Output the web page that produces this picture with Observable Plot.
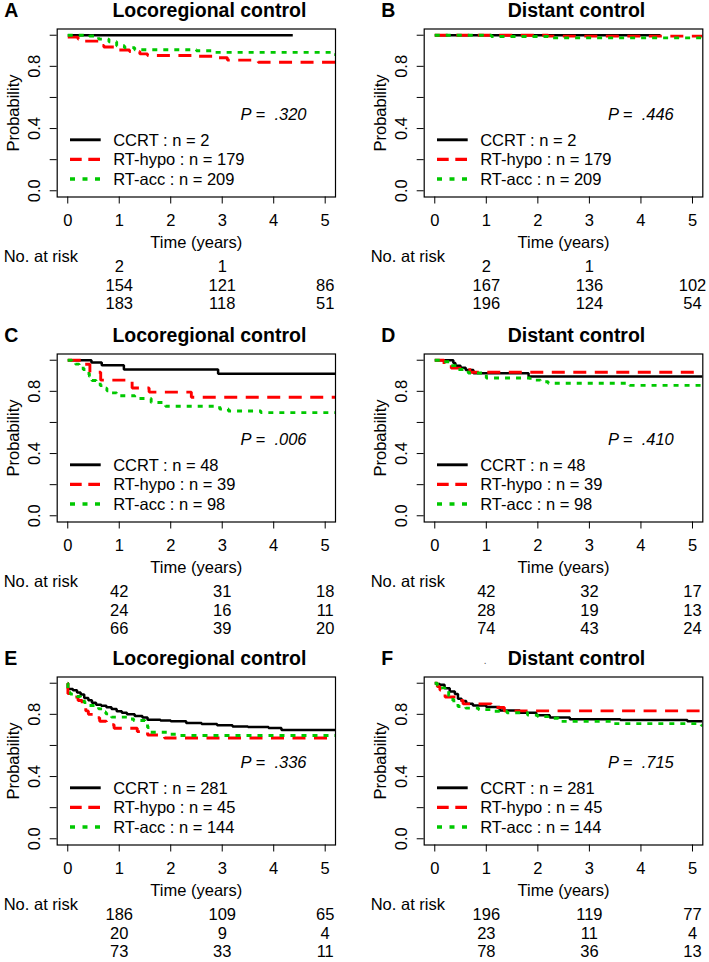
<!DOCTYPE html>
<html>
<head>
<meta charset="utf-8">
<script src="https://cdn.jsdelivr.net/npm/d3@7"></script>
<script src="https://cdn.jsdelivr.net/npm/@observablehq/plot@0.6"></script>
<style>
  body { margin: 0; background: #fff; }
  #fig { position: relative; width: 709px; height: 962px; overflow: hidden; background: #fff;
         font-family: "Liberation Sans", Arial, Helvetica, sans-serif; }
  #fig svg { position: absolute; overflow: visible; }
</style>
</head>
<body>
<div id="fig"></div>
<script>
// ---------------- DATA ----------------
const groups = ["CCRT", "RT-hypo", "RT-acc"];
const letters = ["A", "B", "C", "D", "E", "F"];
const titles = ["Locoregional control", "Distant control", "Locoregional control", "Distant control", "Locoregional control", "Distant control"];
const pValues = [".320", ".446", ".006", ".410", ".336", ".715"];
const xTicks = [0, 1, 2, 3, 4, 5];
const yTicks = [0, 0.2, 0.4, 0.6, 0.8, 1.0];
const yLabelled = [0, 0.4, 0.8];
const riskTimes = [1, 3, 5];

// group sizes per panel (CCRT, RT-hypo, RT-acc)
const nA = [2, 179, 209], nB = [2, 179, 209];
const nC = [48, 39, 98],  nD = [48, 39, 98];
const nE = [281, 45, 144], nF = [281, 45, 144];

// numbers at risk at 1, 3, 5 years
const riskA = [[2, 1, null], [154, 121, 86], [183, 118, 51]];
const riskB = [[2, 1, null], [167, 136, 102], [196, 124, 54]];
const riskC = [[42, 31, 18], [24, 16, 11], [66, 39, 20]];
const riskD = [[42, 32, 17], [28, 19, 13], [74, 43, 24]];
const riskE = [[186, 109, 65], [20, 9, 4], [73, 33, 11]];
const riskF = [[196, 119, 77], [23, 11, 4], [78, 36, 13]];

// Kaplan-Meier step curves [time (years), probability]
const A_ccrt = [[0,1],[4.37,1]];
const A_hypo = [[0,0.988],[0.2,0.975],[0.3,0.962],[0.62,0.935],[0.7,0.924],[1.0,0.905],[1.2,0.895],[1.4,0.88],[1.55,0.87],[2.45,0.865],[2.85,0.855],[3.1,0.84],[3.7,0.826],[5.3,0.826]];
const A_acc  = [[0,1],[0.42,0.995],[0.6,0.975],[0.8,0.958],[0.95,0.932],[1.1,0.92],[1.3,0.907],[2.5,0.9],[2.8,0.89],[5.15,0.875],[5.3,0.875]];

const B_ccrt = [[0,1],[4.38,1]];
const B_hypo = [[0,1],[2.2,0.994],[5.3,0.994]];
const B_acc  = [[0,1],[1.1,0.992],[2.2,0.983],[5.3,0.983]];

const C_ccrt = [[0,1],[0.46,0.985],[0.66,0.967],[1.09,0.94],[2.92,0.913],[5.3,0.913]];
const C_hypo = [[0,1],[0.3,0.974],[0.43,0.923],[0.64,0.872],[1.25,0.821],[1.58,0.795],[2.4,0.762],[5.3,0.762]];
const C_acc  = [[0,1],[0.08,0.99],[0.15,0.975],[0.22,0.96],[0.3,0.94],[0.35,0.915],[0.42,0.895],[0.47,0.87],[0.55,0.855],[0.63,0.837],[0.7,0.82],[0.76,0.804],[0.85,0.79],[0.95,0.772],[1.3,0.754],[1.62,0.728],[1.9,0.704],[2.95,0.686],[3.12,0.674],[3.75,0.663],[5.3,0.663]];

const D_ccrt = [[0,1],[0.36,0.982],[0.4,0.964],[0.5,0.952],[0.6,0.937],[0.75,0.917],[1.82,0.896],[5.3,0.896]];
const D_hypo = [[0,1],[0.18,0.974],[0.32,0.949],[0.68,0.923],[5.3,0.923]];
const D_acc  = [[0,1],[0.1,0.99],[0.3,0.965],[0.45,0.94],[0.65,0.918],[1.0,0.886],[1.85,0.872],[2.05,0.862],[2.2,0.852],[3.78,0.838],[5.3,0.838]];

const E_ccrt = [[0,1],[0.005,0.963],[0.1,0.955],[0.18,0.94],[0.25,0.928],[0.32,0.905],[0.4,0.89],[0.47,0.875],[0.55,0.862],[0.65,0.855],[0.75,0.845],[0.85,0.835],[0.95,0.82],[1.05,0.81],[1.15,0.8],[1.3,0.79],[1.45,0.78],[1.55,0.765],[1.8,0.76],[2.0,0.755],[2.3,0.745],[2.6,0.738],[2.9,0.73],[3.2,0.722],[3.5,0.718],[3.9,0.712],[4.15,0.7],[5.3,0.7]];
const E_hypo = [[0,1],[0.003,0.933],[0.08,0.911],[0.2,0.889],[0.28,0.867],[0.35,0.822],[0.4,0.8],[0.55,0.778],[0.62,0.756],[0.75,0.733],[0.9,0.711],[1.35,0.689],[1.55,0.667],[1.88,0.648],[5.3,0.648]];
const E_acc  = [[0,1],[0.003,0.94],[0.05,0.93],[0.18,0.915],[0.25,0.9],[0.32,0.875],[0.38,0.857],[0.6,0.835],[0.68,0.815],[0.74,0.803],[0.85,0.782],[1.22,0.77],[1.28,0.76],[1.5,0.74],[1.55,0.715],[1.6,0.685],[1.95,0.672],[2.15,0.664],[5.3,0.664]];

const F_ccrt = [[0,1],[0.05,0.995],[0.1,0.99],[0.19,0.968],[0.29,0.947],[0.39,0.93],[0.45,0.9],[0.52,0.885],[0.61,0.868],[0.74,0.857],[1.0,0.847],[1.26,0.825],[1.65,0.81],[1.97,0.794],[2.23,0.779],[2.62,0.768],[3.6,0.764],[4.9,0.755],[5.3,0.755]];
const F_hypo = [[0,1],[0.05,0.978],[0.1,0.956],[0.15,0.933],[0.2,0.911],[0.45,0.889],[0.55,0.867],[1.1,0.844],[1.35,0.822],[5.3,0.822]];
const F_acc  = [[0,1],[0.05,0.985],[0.12,0.97],[0.2,0.95],[0.27,0.92],[0.32,0.895],[0.37,0.87],[0.45,0.85],[0.6,0.84],[0.85,0.83],[1.1,0.82],[1.4,0.81],[1.8,0.795],[2.0,0.785],[2.2,0.775],[2.4,0.755],[3.45,0.74],[5.17,0.73],[5.3,0.73]];

// ---------------- STYLE / LAYOUT ----------------
const lineStyles = [
  {stroke: "#000000", dash: null,     ldash: null,       w: 2.5},
  {stroke: "#ff0000", dash: "13,8.5", ldash: "11.7,6.6", w: 2.9},
  {stroke: "#00c800", dash: "5,6",    ldash: "5,7.5",    w: 2.9}
];
const FONT = "'Liberation Sans', Arial, Helvetica, sans-serif";
const FS = 16.5, TFS = 19.5;
const colLeft = [0, 354], colWidth = [354, 355];
const mLeft = [56.7, 69.7], mRight = [19, 6.7];
const letterDx = [-53, -43];
const rowTop = [0, 324.5, 647.5];
const H = 314, MT = 28.5, BOX = 168, MB = H - MT - BOX;
const legendDy = [111.3, 130.9, 150.5];
const riskDy = [69.6, 88.3, 107.1];

const panels = [
  {curves: [A_ccrt, A_hypo, A_acc], n: nA, risk: riskA},
  {curves: [B_ccrt, B_hypo, B_acc], n: nB, risk: riskB},
  {curves: [C_ccrt, C_hypo, C_acc], n: nC, risk: riskC},
  {curves: [D_ccrt, D_hypo, D_acc], n: nD, risk: riskD},
  {curves: [E_ccrt, E_hypo, E_acc], n: nE, risk: riskE},
  {curves: [F_ccrt, F_hypo, F_acc], n: nF, risk: riskF}
];

const fig = document.getElementById("fig");

panels.forEach((p, i) => {
  const col = i % 2, row = Math.floor(i / 2);
  const ml = mLeft[col], mr = mRight[col], w = colWidth[col];

  const legendLines = () => {
    const g = d3.create("svg:g");
    lineStyles.forEach((s, k) => {
      g.append("line")
        .attr("x1", ml + 13.3).attr("x2", ml + 44)
        .attr("y1", MT + legendDy[k]).attr("y2", MT + legendDy[k])
        .attr("stroke", s.stroke).attr("stroke-width", s.w + 0.4)
        .attr("stroke-dasharray", s.ldash);
    });
    return g.node();
  };

  const marks = [];
  p.curves.forEach((c, k) => {
    const s = lineStyles[k];
    marks.push(Plot.line(c, {
      x: d => d[0], y: d => d[1], curve: "step-after",
      stroke: s.stroke, strokeWidth: s.w, strokeDasharray: s.dash,
      strokeLinecap: "butt", strokeLinejoin: "miter", clip: true
    }));
  });
  marks.push(Plot.frame({stroke: "#000", strokeWidth: 1.2}));
  marks.push(Plot.axisX({ticks: xTicks, tickSize: 7, tickPadding: 16.4, lineAnchor: "middle",
    label: null, fontSize: FS, tickFormat: d => String(d)}));
  marks.push(Plot.axisY({ticks: yTicks, tickSize: 7, tickPadding: 15.5, tickRotate: -90,
    textAnchor: "middle", lineAnchor: "middle", label: null, fontSize: FS,
    tickFormat: d => yLabelled.some(v => Math.abs(v - d) < 1e-9) ? d.toFixed(1) : ""}));
  marks.push(Plot.text([titles[i]], {text: d => d, frameAnchor: "top", dx: 13, dy: -18,
    fontWeight: "bold", fontSize: TFS, lineAnchor: "middle"}));
  marks.push(Plot.text([letters[i]], {text: d => d, frameAnchor: "top-left", dx: letterDx[col], dy: -18,
    textAnchor: "start", fontWeight: "bold", fontSize: TFS, lineAnchor: "middle"}));
  if (i === 5) {
    marks.push(Plot.text(["."], {text: d => d, frameAnchor: "top-left", dx: 59.5, dy: -16,
      fontSize: 10, lineAnchor: "middle", fill: "#555"}));
  }
  marks.push(Plot.text(["Probability"], {text: d => d, frameAnchor: "left", dx: -43, rotate: -90,
    textAnchor: "middle", lineAnchor: "middle", fontSize: FS}));
  marks.push(Plot.text(["Time (years)"], {text: d => d, frameAnchor: "bottom", dy: 45.6,
    lineAnchor: "middle", fontSize: FS}));
  marks.push(Plot.text(["No. at risk"], {text: d => d, frameAnchor: "bottom-left", dx: -53.5, dy: 59.5,
    textAnchor: "start", lineAnchor: "middle", fontSize: FS}));
  marks.push(Plot.text(["P = \u00a0" + pValues[i]], {text: d => d, frameAnchor: "top-right", dx: -29, dy: 86,
    textAnchor: "end", lineAnchor: "middle", fontStyle: "italic", fontSize: FS}));
  marks.push(legendLines);
  groups.forEach((gname, k) => {
    marks.push(Plot.text([`${gname} : n = ${p.n[k]}`], {text: d => d, frameAnchor: "top-left", dx: 56, dy: legendDy[k],
      textAnchor: "start", lineAnchor: "middle", fontSize: FS}));
  });
  p.risk.forEach((r, k) => {
    const rows = riskTimes.map((t, j) => ({t, n: r[j]})).filter(d => d.n != null);
    marks.push(Plot.text(rows, {x: "t", text: d => String(d.n), frameAnchor: "bottom", dy: riskDy[k],
      textAnchor: "middle", lineAnchor: "middle", fontSize: FS}));
  });

  const svg = Plot.plot({
    width: w, height: H,
    marginTop: MT, marginBottom: MB, marginLeft: ml, marginRight: mr,
    x: {domain: [-0.205, 5.2], axis: null},
    y: {domain: [-0.04, 1.04], axis: null},
    style: {fontFamily: FONT, fontSize: FS + "px", background: "transparent", color: "#000", overflow: "visible"},
    marks
  });
  svg.style.left = colLeft[col] + "px";
  svg.style.top = rowTop[row] + "px";
  fig.appendChild(svg);
});
</script>
</body>
</html>
